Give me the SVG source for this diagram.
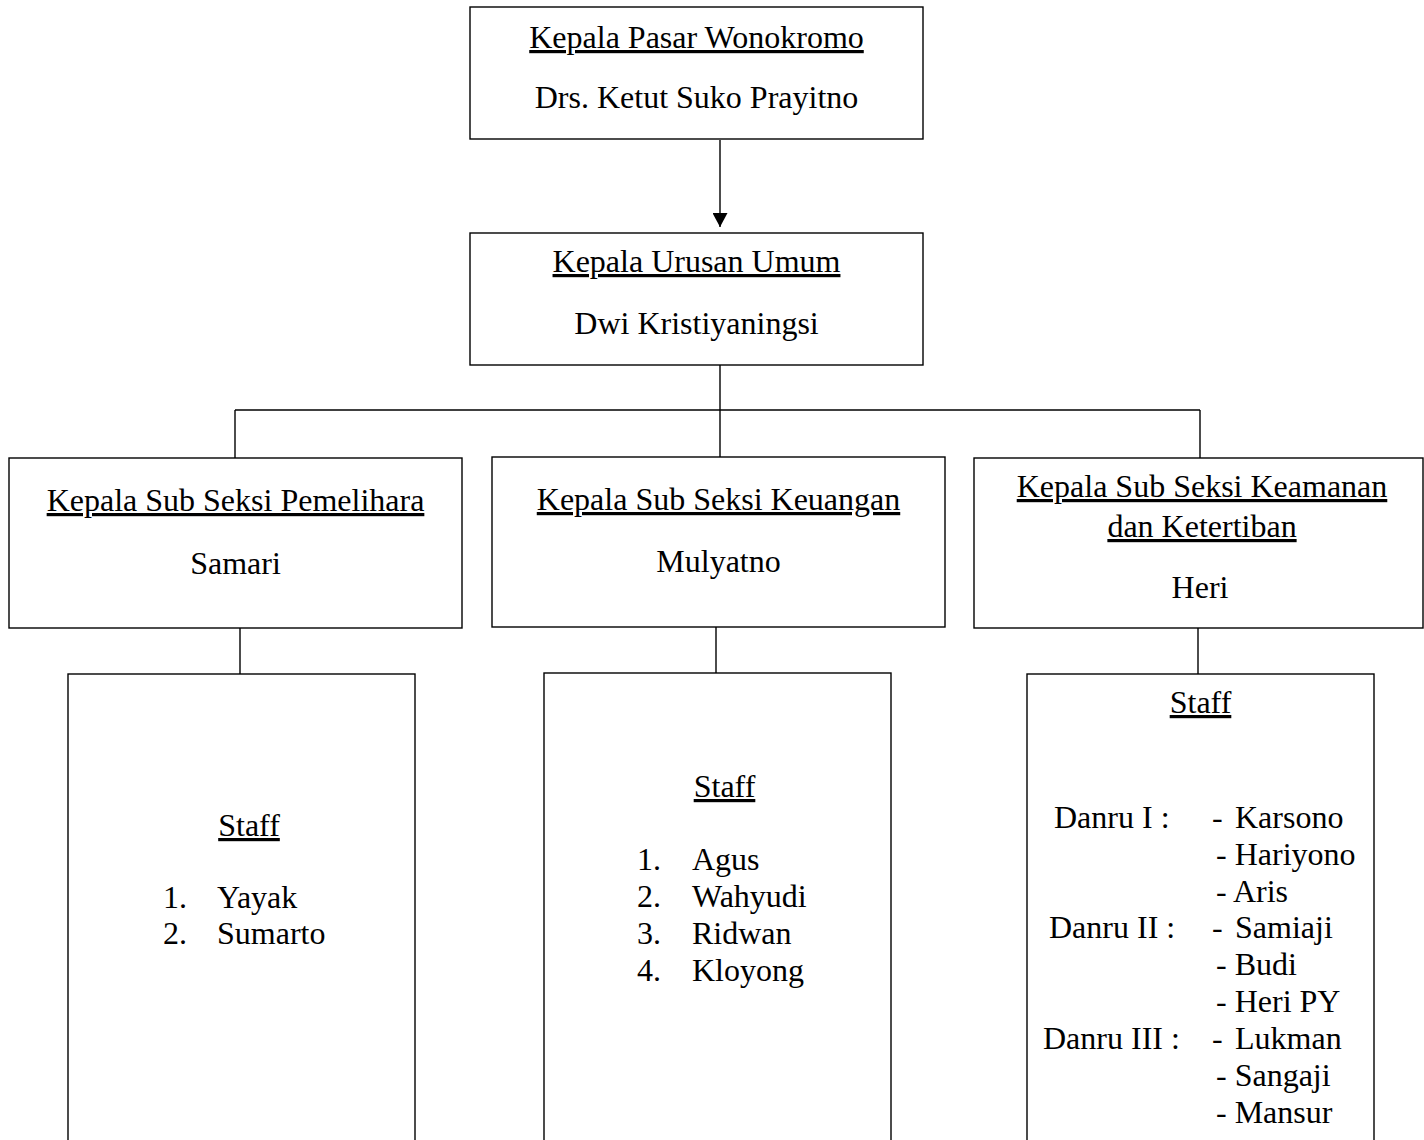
<svg xmlns="http://www.w3.org/2000/svg" width="1424" height="1140" viewBox="0 0 1424 1140">
<style>
.box{fill:#fff;stroke:#000;stroke-width:1.4}
.ln{fill:none;stroke:#000;stroke-width:1.4}
text{font-family:"Liberation Serif","Times New Roman",serif;font-size:32px;fill:#000}
.c{text-anchor:middle}
.u{text-decoration:underline}
</style>
<defs>
<marker id="ah" markerWidth="16" markerHeight="15" refX="15" refY="8" orient="auto" markerUnits="userSpaceOnUse" viewBox="0 0 15 16">
<path d="M0,0 L15,8 L0,16 Z" fill="#000"/>
</marker>
</defs>
<rect width="1424" height="1140" fill="#fff"/>
<g id="connectors">
<line class="ln" x1="720" y1="140" x2="720" y2="227" marker-end="url(#ah)"/>
<line class="ln" x1="720" y1="365" x2="720" y2="410"/>
<line class="ln" x1="235" y1="410" x2="1200" y2="410"/>
<line class="ln" x1="235" y1="410" x2="235" y2="458"/>
<line class="ln" x1="720" y1="410" x2="720" y2="457"/>
<line class="ln" x1="1200" y1="410" x2="1200" y2="458"/>
<line class="ln" x1="240" y1="628" x2="240" y2="674"/>
<line class="ln" x1="716" y1="627" x2="716" y2="673"/>
<line class="ln" x1="1198" y1="628" x2="1198" y2="674"/>
</g>
<g id="kepala-pasar">
<rect class="box" x="470" y="7" width="453" height="132"/>
<text class="c u" x="696.5" y="48">Kepala Pasar Wonokromo</text>
<text class="c" x="696.5" y="108">Drs. Ketut Suko Prayitno</text>
</g>
<g id="kepala-urusan">
<rect class="box" x="470" y="233" width="453" height="132"/>
<text class="c u" x="696.5" y="272">Kepala Urusan Umum</text>
<text class="c" x="696.5" y="334">Dwi Kristiyaningsi</text>
</g>
<g id="pemelihara">
<rect class="box" x="9" y="458" width="453" height="170"/>
<text class="c u" x="235.5" y="511">Kepala Sub Seksi Pemelihara</text>
<text class="c" x="235.5" y="574">Samari</text>
</g>
<g id="keuangan">
<rect class="box" x="492" y="457" width="453" height="170"/>
<text class="c u" x="718.5" y="510">Kepala Sub Seksi Keuangan</text>
<text class="c" x="718.5" y="572">Mulyatno</text>
</g>
<g id="keamanan">
<rect class="box" x="974" y="458" width="449" height="170"/>
<text class="c u" x="1202" y="497">Kepala Sub Seksi Keamanan</text>
<text class="c u" x="1202" y="537">dan Ketertiban</text>
<text class="c" x="1200" y="598">Heri</text>
</g>
<g id="staff-pemelihara">
<rect class="box" x="68" y="674" width="347" height="500"/>
<text class="c u" x="249" y="836">Staff</text>
<text x="163" y="908">1.</text><text x="217" y="908">Yayak</text>
<text x="163" y="944">2.</text><text x="217" y="944">Sumarto</text>
</g>
<g id="staff-keuangan">
<rect class="box" x="544" y="673" width="347" height="500"/>
<text class="c u" x="724.5" y="797">Staff</text>
<text x="637" y="870">1.</text><text x="692" y="870">Agus</text>
<text x="637" y="907">2.</text><text x="692" y="907">Wahyudi</text>
<text x="637" y="944">3.</text><text x="692" y="944">Ridwan</text>
<text x="637" y="981">4.</text><text x="692" y="981">Kloyong</text>
</g>
<g id="staff-keamanan">
<rect class="box" x="1027" y="674" width="347" height="500"/>
<text class="c u" x="1200.5" y="713">Staff</text>
<text x="1054" y="828">Danru I :</text>
<text x="1212" y="828">-</text><text x="1235" y="828">Karsono</text>
<text x="1216" y="865">- Hariyono</text>
<text x="1216" y="902">- Aris</text>
<text x="1049" y="938">Danru II :</text>
<text x="1212" y="938">-</text><text x="1235" y="938">Samiaji</text>
<text x="1216" y="975">- Budi</text>
<text x="1216" y="1012">- Heri PY</text>
<text x="1043" y="1049">Danru III :</text>
<text x="1212" y="1049">-</text><text x="1235" y="1049">Lukman</text>
<text x="1216" y="1086">- Sangaji</text>
<text x="1216" y="1123">- Mansur</text>
</g>
</svg>
